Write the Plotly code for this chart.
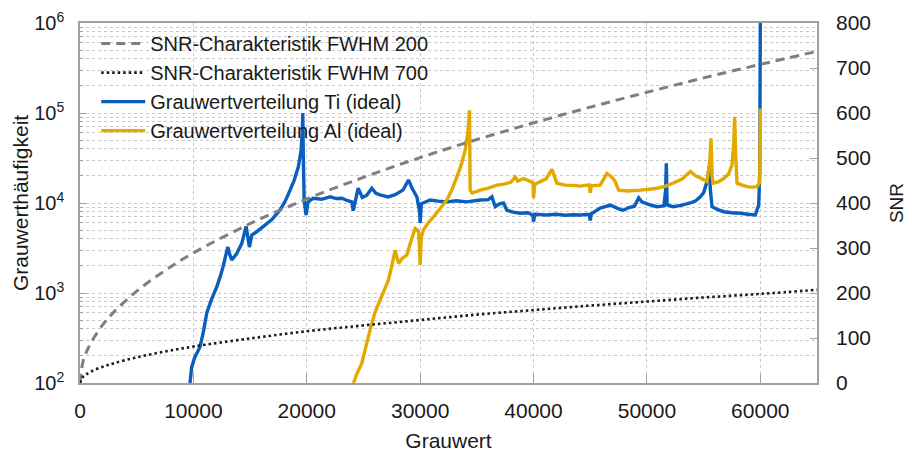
import plotly.graph_objects as go

# --- SNR characteristics (right axis) ---
snr_x = [0, 250, 500, 1000, 2000, 3000, 5000, 7500, 10000, 15000, 20000, 25000,
         30000, 35000, 40000, 45000, 50000, 55000, 60000, 65000]
snr_fwhm200 = [0, 46, 65, 91, 129, 158, 204, 250, 289, 354, 409, 457,
               501, 541, 578, 613, 646, 678, 708, 737]
snr_fwhm700 = [0, 13, 18, 26, 36, 44, 57, 70, 81, 99, 115, 128,
               140, 152, 162, 172, 181, 190, 198, 207]

# --- Grey-value histogram Ti (ideal), left log axis ---
ti_x = [9700, 9850, 10100, 10590, 10900, 11180, 11600, 12060, 12350, 12620, 13030,
        13200, 13380, 13800, 14270, 14650, 14800, 14940, 15150, 15600, 16180, 16900,
        17650, 18100, 18530, 18900, 19260, 19500, 19600, 19650, 19700, 19770, 19940,
        20100, 20560, 21300, 22060, 22600, 23100, 23600, 23970, 24100, 24530, 24900,
        25300, 25730, 26100, 26470, 27180, 27800, 28500, 28970, 29300, 29710, 29950,
        30000, 30100, 30880, 31600, 32350, 33200, 34120, 35300, 36000, 36330, 36620,
        37000, 37350, 37650, 38200, 38820, 39500, 39950, 40000, 40100, 41180, 42000,
        42800, 43500, 44120, 44900, 45000, 45100, 45880, 46770, 47500, 47920, 48400,
        48900, 49270, 49560, 50200, 50880, 51500, 51650, 51710, 51780, 52330, 53000,
        53830, 54300, 54710, 55000, 55300, 55500, 55600, 55740, 56200, 56770, 57500,
        58240, 58900, 59560, 59860, 59950, 60000]
ti_y = [100, 150, 190, 253, 380, 600, 850, 1170, 1500, 1960, 3240,
        2700, 2330, 2700, 3560, 5490, 4200, 3240, 4400, 4800, 5500, 6500,
        8380, 10500, 13900, 18000, 25300, 38600, 60000, 100000, 30000, 10700, 7350,
        10200, 11300, 11000, 11700, 11200, 11300, 10600, 10300, 8200, 14600, 11500,
        12200, 14600, 12800, 12300, 11700, 12400, 14000, 18000, 14500, 11700, 8000,
        6000, 9800, 10800, 10500, 10300, 10600, 10300, 10800, 10900, 11700, 9100,
        9800, 10000, 8300, 7900, 7700, 7800, 7300, 6200, 7500, 7350, 7500,
        7300, 7400, 7350, 7500, 6400, 7600, 8800, 9500, 8600, 8300, 8900,
        9200, 11400, 10300, 9600, 9100, 9300, 14000, 27600, 9500, 9100, 9400,
        10000, 10600, 11700, 13000, 17300, 25300, 14000, 9100, 8500, 8000, 7800,
        7700, 7500, 7350, 9500, 22400, 1000000]

# --- Grey-value histogram Al (ideal), left log axis ---
al_x = [24120, 24400, 24850, 25200, 25590, 26000, 26470, 26800, 27200, 27500, 27800,
        27950, 28090, 28400, 28820, 29200, 29560, 29850, 29950, 30000, 30100, 30290,
        30700, 31180, 31800, 32350, 32800, 33240, 33600, 33970, 34200, 34300, 34350,
        34410, 34600, 35300, 36000, 36770, 37400, 38000, 38380, 38600, 39120, 39700,
        39950, 40000, 40100, 40590, 41100, 41620, 42060, 42800, 43500, 44120, 44900,
        45000, 45100, 45880, 46470, 46900, 47210, 47500, 48300, 49410, 50200, 50880,
        51600, 52330, 53100, 53830, 54300, 54710, 55300, 55550, 55650, 55750, 55830,
        56300, 56770, 57200, 57500, 57650, 57740, 57820, 57950, 58400, 58830, 59300,
        59710, 59950, 60000]
al_y = [100, 125, 165, 250, 390, 600, 840, 1050, 1390, 2000, 3000,
        2500, 2130, 2400, 2640, 3800, 5200, 4900, 3000, 2050, 4200, 5000,
        6000, 7000, 8800, 10800, 14000, 19500, 26000, 38600, 60000, 85000, 107000,
        13900, 12900, 13900, 14600, 15800, 16200, 17000, 19500, 17500, 18700, 17400,
        16800, 11300, 16000, 17300, 18500, 23600, 16600, 15800, 15700, 15400, 15900,
        13000, 15500, 15800, 21300, 19500, 17300, 13900, 13600, 13900, 14200, 14600,
        15300, 16700, 18500, 22400, 20000, 19000, 17300, 30000, 52400, 20000, 16600,
        17200, 18700, 21000, 26400, 45000, 91000, 35000, 16600, 15800, 15200, 15000,
        15200, 17000, 112000]

BLUE = "#0a5ebd"
GOLD = "#e2a900"

fig = go.Figure()
fig.add_trace(go.Scatter(x=snr_x, y=snr_fwhm200, yaxis="y2", mode="lines",
                         name="SNR-Charakteristik FWHM 200",
                         line=dict(color="#7f7f7f", width=3, dash="9px,6px"),
                         line_shape="spline"))
fig.add_trace(go.Scatter(x=snr_x, y=snr_fwhm700, yaxis="y2", mode="lines",
                         name="SNR-Charakteristik FWHM 700",
                         line=dict(color="#1a1a1a", width=2.6, dash="2.5px,3px"),
                         line_shape="spline"))
fig.add_trace(go.Scatter(x=ti_x, y=ti_y, mode="lines",
                         name="Grauwertverteilung Ti (ideal)",
                         line=dict(color=BLUE, width=3.4, simplify=False)))
fig.add_trace(go.Scatter(x=al_x, y=al_y, mode="lines",
                         name="Grauwertverteilung Al (ideal)",
                         line=dict(color=GOLD, width=3.4, simplify=False)))

minor_vals = [m * 10 ** e for e in range(2, 6) for m in range(2, 10)]
dec_vals = [10 ** e for e in range(2, 7)]
dec_text = ["10<sup>%d</sup>" % e for e in range(2, 7)]

FONT = "Liberation Sans, Arial, sans-serif"
GRID = "#c8c8c8"
AX = "#a0a0a0"

# the page body adds an 8px offset, so margins are shifted by 8px
fig.update_layout(
    width=912, height=454,
    margin=dict(l=72, r=103, t=15, b=79, autoexpand=False),
    paper_bgcolor="white", plot_bgcolor="white",
    font=dict(family=FONT, size=20, color="#1a1a1a"),
    showlegend=True,
    legend=dict(x=0.022, y=0.997, xanchor="left", yanchor="top",
                bgcolor="rgba(255,255,255,0)", borderwidth=0, font=dict(size=20),
                itemwidth=44, tracegroupgap=0),
    xaxis=dict(range=[0, 65000], tickvals=[0, 10000, 20000, 30000, 40000, 50000, 60000],
               ticktext=["0", "10000", "20000", "30000", "40000", "50000", "60000"],
               ticks="inside", ticklen=9, tickcolor=AX, tickfont=dict(size=21),
               automargin=False, ticklabelstandoff=8,
               showgrid=True, gridcolor=GRID, griddash="dot", gridwidth=1,
               showline=True, linecolor=AX, linewidth=1.5, mirror=True,
               zeroline=False,
               title=dict(text="Grauwert", font=dict(size=21), standoff=12)),
    yaxis=dict(type="log", range=[2, 6], tickvals=dec_vals, ticktext=dec_text,
               ticks="inside", ticklen=6, tickcolor=AX, tickfont=dict(size=20),
               automargin=False, ticklabelstandoff=10,
               showgrid=True, gridcolor=GRID, griddash="dot", gridwidth=1,
               minor=dict(tickvals=minor_vals, showgrid=True, gridcolor=GRID,
                          griddash="dot", ticks="inside", ticklen=3, tickcolor=AX),
               showline=True, linecolor=AX, linewidth=1.5, mirror=True,
               zeroline=False,
               title=dict(text="Grauwerthäufigkeit", font=dict(size=21), standoff=0)),
    yaxis2=dict(overlaying="y", side="right", range=[0, 800], dtick=100,
                ticks="inside", ticklen=7, tickcolor=AX, tickfont=dict(size=21),
                automargin=False, ticklabelstandoff=18,
                showgrid=False, zeroline=False, showline=False,
                title=dict(text="SNR", font=dict(size=19), standoff=19)),
)

fig.write_html("out.html")
